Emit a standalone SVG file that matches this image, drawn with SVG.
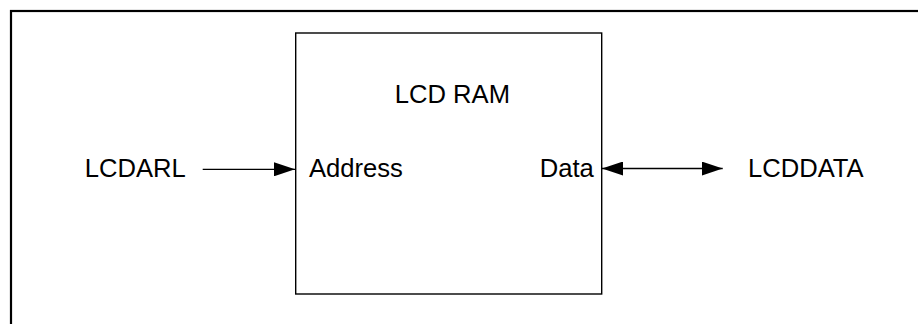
<svg xmlns="http://www.w3.org/2000/svg" width="918" height="324" viewBox="0 0 918 324">
<style>
.t{font-family:"Liberation Sans",Arial,sans-serif;font-size:25.6px;fill:#000}
.ln{stroke:#000;stroke-width:1.3;fill:none}
</style>
<defs>
<marker id="ah" markerUnits="userSpaceOnUse" markerWidth="21" markerHeight="14" refX="21" refY="7" orient="auto-start-reverse">
<path d="M0,0 L21,7 L0,14 Z" fill="#000"/>
</marker>
</defs>
<rect x="11" y="11" width="930" height="340" fill="none" stroke="#000" stroke-width="2.2"/>
<g id="lcdram">
<rect x="295.7" y="33" width="306" height="261" fill="none" stroke="#000" stroke-width="1.4"/>
<text class="t" x="394.8" y="102.7">LCD RAM</text>
<text class="t" x="309" y="176.7">Address</text>
<text class="t" x="539.7" y="176.7">Data</text>
</g>
<g id="lcdarl"><text class="t" x="84.8" y="176.7">LCDARL</text></g>
<g id="lcddata"><text class="t" x="748" y="176.7">LCDDATA</text></g>
<g id="connectors">
<line class="ln" x1="202.7" y1="169.3" x2="295" y2="169.3" marker-end="url(#ah)"/>
<line class="ln" x1="602" y1="168.5" x2="722.7" y2="168.5" marker-start="url(#ah)" marker-end="url(#ah)"/>
</g>
</svg>
